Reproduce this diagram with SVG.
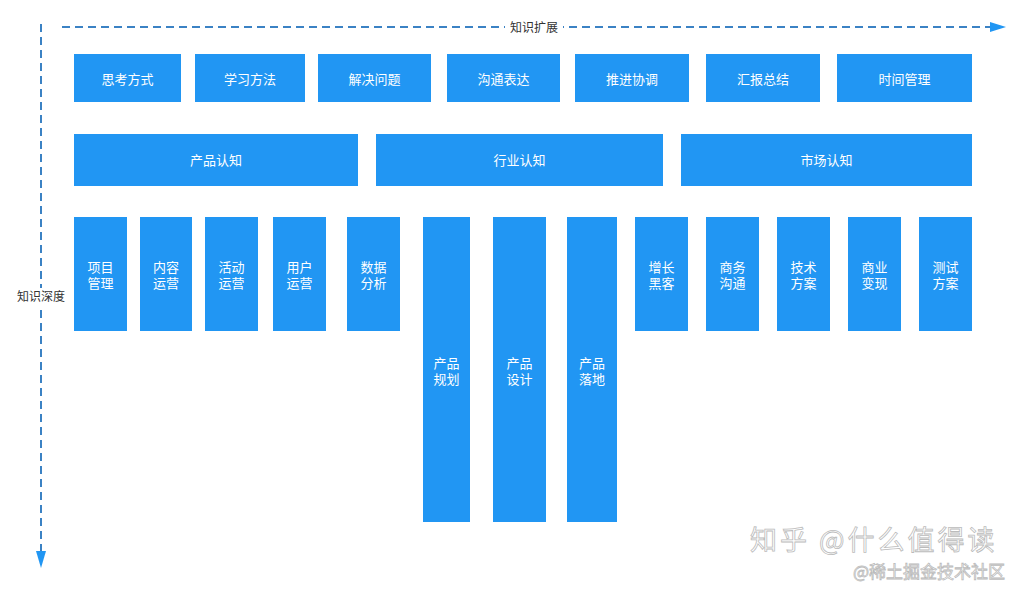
<svg xmlns="http://www.w3.org/2000/svg" width="1031" height="592" viewBox="0 0 1031 592">
<style>
.box{fill:#2196f3}
.t{font-family:"Liberation Sans","Noto Sans CJK SC",sans-serif;font-size:13px;fill:#ffffff;text-anchor:middle}
.ax{stroke:#3b82c4;stroke-width:2;stroke-dasharray:8,5;fill:none}
.lbl{font-family:"Liberation Sans","Noto Sans CJK SC",sans-serif;font-size:12px;fill:#333333}
.wm{font-family:"Noto Sans CJK SC",sans-serif;fill:#ffffff;stroke:#bbbbbb;stroke-width:0.8}
</style>
<rect width="1031" height="592" fill="#ffffff"/>
<g id="connectors">
<path class="ax" d="M62,27 H994"/>
<path d="M990,22 L1006,27 L990,32 z" fill="#2196f3"/>
<path class="ax" d="M41,24 V554"/>
<path d="M36,551 L41,568 L46,551 z" fill="#2196f3"/>
<rect x="505" y="19" width="58" height="16" fill="#ffffff"/>
<text class="lbl" x="534" y="32" text-anchor="middle">知识扩展</text>
<rect x="14" y="288" width="54" height="18" fill="#ffffff"/>
<text class="lbl" x="41" y="301" text-anchor="middle">知识深度</text>
</g>
<g id="n1"><rect class="box" x="74" y="54" width="107" height="48"/><text class="t" x="127.5" y="84">思考方式</text></g>
<g id="n2"><rect class="box" x="195" y="54" width="110" height="48"/><text class="t" x="250" y="84">学习方法</text></g>
<g id="n3"><rect class="box" x="318" y="54" width="113" height="48"/><text class="t" x="374.5" y="84">解决问题</text></g>
<g id="n4"><rect class="box" x="447" y="54" width="113" height="48"/><text class="t" x="503.5" y="84">沟通表达</text></g>
<g id="n5"><rect class="box" x="575" y="54" width="114" height="48"/><text class="t" x="632" y="84">推进协调</text></g>
<g id="n6"><rect class="box" x="706" y="54" width="114" height="48"/><text class="t" x="763" y="84">汇报总结</text></g>
<g id="n7"><rect class="box" x="837" y="54" width="135" height="48"/><text class="t" x="904.5" y="84">时间管理</text></g>
<g id="n8"><rect class="box" x="74" y="134" width="284" height="52"/><text class="t" x="216" y="165">产品认知</text></g>
<g id="n9"><rect class="box" x="376" y="134" width="287" height="52"/><text class="t" x="519.5" y="165">行业认知</text></g>
<g id="n10"><rect class="box" x="681" y="134" width="291" height="52"/><text class="t" x="826.5" y="165">市场认知</text></g>
<g id="n11"><rect class="box" x="74" y="217" width="53" height="114"/><text class="t" x="100.5" y="272">项目</text><text class="t" x="100.5" y="288">管理</text></g>
<g id="n12"><rect class="box" x="140" y="217" width="52" height="114"/><text class="t" x="166" y="272">内容</text><text class="t" x="166" y="288">运营</text></g>
<g id="n13"><rect class="box" x="205" y="217" width="53" height="114"/><text class="t" x="231.5" y="272">活动</text><text class="t" x="231.5" y="288">运营</text></g>
<g id="n14"><rect class="box" x="273" y="217" width="53" height="114"/><text class="t" x="299.5" y="272">用户</text><text class="t" x="299.5" y="288">运营</text></g>
<g id="n15"><rect class="box" x="347" y="217" width="53" height="114"/><text class="t" x="373.5" y="272">数据</text><text class="t" x="373.5" y="288">分析</text></g>
<g id="n16"><rect class="box" x="423" y="217" width="47" height="305"/><text class="t" x="446.5" y="368">产品</text><text class="t" x="446.5" y="384">规划</text></g>
<g id="n17"><rect class="box" x="493" y="217" width="53" height="305"/><text class="t" x="519.5" y="368">产品</text><text class="t" x="519.5" y="384">设计</text></g>
<g id="n18"><rect class="box" x="567" y="217" width="50" height="305"/><text class="t" x="592" y="368">产品</text><text class="t" x="592" y="384">落地</text></g>
<g id="n19"><rect class="box" x="635" y="217" width="53" height="114"/><text class="t" x="661.5" y="272">增长</text><text class="t" x="661.5" y="288">黑客</text></g>
<g id="n20"><rect class="box" x="706" y="217" width="53" height="114"/><text class="t" x="732.5" y="272">商务</text><text class="t" x="732.5" y="288">沟通</text></g>
<g id="n21"><rect class="box" x="777" y="217" width="53" height="114"/><text class="t" x="803.5" y="272">技术</text><text class="t" x="803.5" y="288">方案</text></g>
<g id="n22"><rect class="box" x="848" y="217" width="53" height="114"/><text class="t" x="874.5" y="272">商业</text><text class="t" x="874.5" y="288">变现</text></g>
<g id="n23"><rect class="box" x="919" y="217" width="53" height="114"/><text class="t" x="945.5" y="272">测试</text><text class="t" x="945.5" y="288">方案</text></g>
<g id="watermark">
<text class="wm" x="750" y="550" font-size="27" letter-spacing="3">知乎 @什么值得读</text>
<text class="wm" x="853" y="578" font-size="17" stroke-width="0.6">@稀土掘金技术社区</text>
</g>
</svg>
